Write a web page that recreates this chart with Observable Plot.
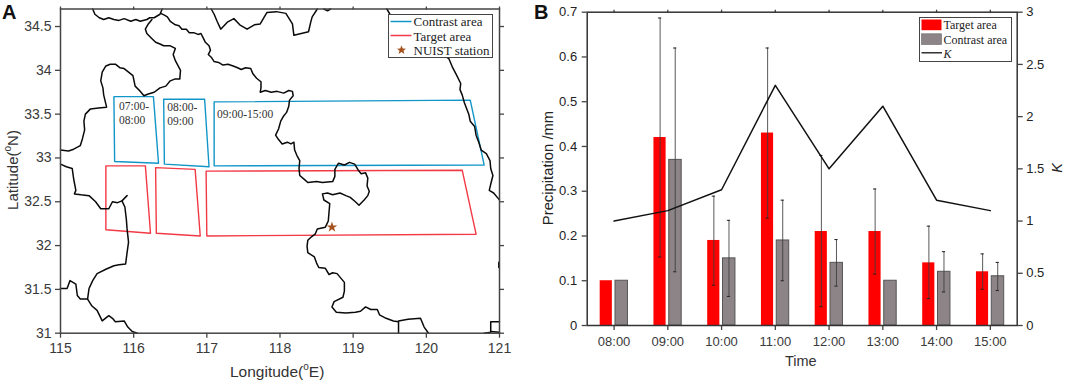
<!DOCTYPE html>
<html><head><meta charset="utf-8">
<script src="https://cdn.jsdelivr.net/npm/d3@7"></script>
<script src="https://cdn.jsdelivr.net/npm/@observablehq/plot@0.6"></script>
<style>
html,body{margin:0;padding:0;background:#fff}
#root{position:relative;width:1065px;height:385px;overflow:hidden;font-family:"Liberation Sans",Arial,sans-serif}
#root>div,#root>svg{position:absolute}
.lab{white-space:nowrap;line-height:1;color:#333;font-size:15.5px}
.lab sup{font-size:10px;line-height:0;position:relative;top:-1px;vertical-align:super}
.rot{transform:translate(-50%,-50%) rotate(-90deg);transform-origin:center}
.panel{font-weight:bold;font-size:20px;color:#111;line-height:1}
.legend{background:#fff;border:1.5px solid #444;box-sizing:border-box;font-family:"Liberation Serif","Times New Roman",serif;color:#222}
.legend>*{position:absolute}
</style></head><body><div id="root"></div>
<script>
// ---- Panel A data (longitude, latitude) ----
const lonTicks=[115,116,117,118,119,120,121];
const latTicks=[31,31.5,32,32.5,33,33.5,34,34.5];
const rimNorth=[[115.44,34.7],[115.47,34.64],[115.53,34.60],[115.59,34.58],[115.66,34.60],[115.73,34.58],[115.80,34.57],[115.87,34.59],[115.96,34.56],[116.03,34.58],[116.09,34.56],[116.18,34.58],[116.22,34.60],[116.28,34.60],[116.36,34.64],[116.39,34.7]];
const riverCentral=[[116.37,34.65],[116.42,34.63],[116.46,34.61],[116.50,34.56],[116.57,34.52],[116.62,34.51],[116.66,34.47],[116.72,34.47],[116.76,34.43],[116.82,34.43],[116.88,34.41],[116.92,34.42],[116.95,34.37],[116.98,34.32],[117.03,34.28],[117.05,34.23],[117.02,34.18],[117.06,34.15],[117.10,34.10],[117.16,34.09],[117.22,34.06],[117.29,34.07],[117.36,34.05],[117.42,34.03],[117.47,34.01],[117.53,34.03],[117.60,34.02],[117.63,33.96],[117.68,33.91],[117.74,33.87],[117.74,33.80],[117.73,33.75],[117.80,33.77],[117.88,33.75],[117.96,33.76],[118.05,33.74],[118.12,33.77],[118.17,33.76],[118.18,33.71],[118.13,33.66],[118.12,33.59],[118.09,33.52],[118.05,33.48],[118.01,33.42],[117.98,33.33],[117.94,33.26],[117.98,33.21],[118.03,33.16],[118.10,33.18],[118.15,33.16],[118.19,33.18],[118.20,33.09],[118.23,33.03],[118.27,32.97],[118.26,32.88],[118.27,32.80],[118.34,32.75],[118.38,32.72],[118.50,32.73],[118.58,32.72],[118.72,32.73],[118.75,32.79],[118.75,32.87],[118.80,32.94],[118.88,32.92],[118.95,32.95],[119.02,32.93],[119.07,32.86],[119.11,32.82],[119.17,32.83],[119.20,32.77],[119.19,32.68],[119.22,32.62],[119.20,32.57],[119.15,32.52],[119.08,32.46],[119.03,32.50],[118.96,32.55],[118.90,32.57],[118.82,32.60],[118.72,32.58],[118.65,32.60],[118.58,32.59],[118.60,32.52],[118.68,32.48],[118.67,32.38],[118.66,32.28],[118.62,32.21],[118.51,32.19],[118.48,32.13],[118.43,32.10],[118.38,32.06],[118.37,31.99],[118.38,31.92],[118.47,31.87],[118.50,31.80],[118.53,31.75],[118.62,31.74],[118.67,31.67],[118.72,31.69],[118.78,31.68],[118.84,31.62],[118.88,31.58],[118.88,31.48],[118.86,31.41],[118.74,31.36],[118.71,31.30],[118.77,31.24],[118.90,31.23],[119.03,31.24],[119.10,31.25],[119.17,31.30],[119.24,31.27],[119.33,31.27],[119.36,31.21],[119.45,31.17],[119.55,31.14],[119.62,31.13],[119.62,31]];
const riverSouthEnd=[[119.62,31.14],[119.75,31.16],[119.92,31.17],[119.97,31.07],[120.03,31]];
const loopWest=[[116.25,34.58],[116.20,34.53],[116.16,34.47],[116.18,34.42],[116.24,34.37],[116.30,34.32],[116.36,34.30],[116.41,34.28],[116.50,34.28],[116.57,34.25],[116.54,34.18],[116.57,34.11],[116.64,34.00],[116.63,33.90],[116.56,33.90],[116.50,33.88],[116.44,33.82],[116.36,33.80],[116.28,33.75],[116.20,33.73],[116.14,33.71],[116.08,33.77],[116.02,33.82],[115.99,33.94],[115.93,33.98],[115.87,34.02],[115.81,34.03],[115.75,34.07],[115.68,34.07],[115.62,34.05],[115.57,33.98],[115.55,33.88],[115.58,33.80],[115.59,33.72],[115.63,33.58],[115.52,33.57],[115.41,33.56],[115.34,33.50],[115.32,33.42],[115.33,33.32],[115.30,33.22],[115.27,33.14],[115.18,33.10],[115.11,33.08],[115,33.09]];
const riverWest=[[115,32.93],[115.08,32.90],[115.16,32.88],[115.18,32.76],[115.21,32.63],[115.19,32.59],[115.28,32.58],[115.39,32.57],[115.48,32.50],[115.55,32.42],[115.66,32.42],[115.71,32.50],[115.78,32.49],[115.84,32.51],[115.91,32.57]];
const riverWestSouth=[[115.84,32.51],[115.88,32.44],[115.90,32.30],[115.91,32.19],[115.93,32.04],[115.91,31.92],[115.89,31.79],[115.80,31.78],[115.73,31.77],[115.62,31.73],[115.50,31.68],[115.44,31.60],[115.39,31.51],[115.37,31.39],[115.43,31.31],[115.50,31.26],[115.57,31.14],[115.66,31.20],[115.71,31.17],[115.75,31.13],[115.87,31.14],[115.92,31.07],[115.98,31.02],[116.05,31]];
const branchSouthWest=[[115,31.51],[115.09,31.51],[115.13,31.60],[115.21,31.56],[115.23,31.43],[115.27,31.39],[115.37,31.39]];
const rimNorthEast=[[117.06,34.7],[117.10,34.64],[117.14,34.56],[117.19,34.47],[117.28,34.55],[117.37,34.59],[117.45,34.52],[117.55,34.47],[117.65,34.52],[117.73,34.53],[117.82,34.66],[117.95,34.67],[118.08,34.65],[118.17,34.53],[118.19,34.40],[118.29,34.42],[118.39,34.44],[118.42,34.55],[118.44,34.61],[118.51,34.7]];
const rimTopDash=[[118.60,34.7],[118.65,34.68],[118.69,34.7]];
const coast=[[119.46,34.7],[119.51,34.63],[120.31,34.13],[120.36,34.03],[120.41,33.95],[120.47,33.85],[120.46,33.78],[120.49,33.72],[120.52,33.63],[120.58,33.50],[120.60,33.42],[120.66,33.36],[120.68,33.26],[120.72,33.17],[120.75,33.09],[120.82,33.05],[120.87,32.97],[120.88,32.88],[120.91,32.80],[120.88,32.70],[120.86,32.63],[120.92,32.60],[120.99,32.53],[121,32.52]];
const coastDash=[[120.99,31.81],[120.99,31.75]];
const cornerA=[[120.79,31],[120.88,31.01],[120.88,31.13],[121,31.13]];
const cornerB=[[120.88,31.02],[121,31.01]];
const contrastBoxes=[
 [[115.73,33.70],[116.27,33.70],[116.34,32.94],[115.74,32.96],[115.73,33.70]],
 [[116.41,33.67],[116.97,33.67],[117.03,32.90],[116.42,32.93],[116.41,33.67]],
 [[117.10,33.64],[120.60,33.66],[120.79,32.92],[117.10,32.91],[117.10,33.64]]];
const targetBoxes=[
 [[115.62,32.91],[116.16,32.91],[116.23,32.14],[115.62,32.18],[115.62,32.91]],
 [[116.30,32.89],[116.84,32.87],[116.91,32.11],[116.31,32.14],[116.30,32.89]],
 [[116.99,32.85],[120.49,32.86],[120.68,32.13],[117.00,32.11],[116.99,32.85]]];
const station=[[118.71,32.21]];
const boxLabels=[{lon:115.80,lat:33.515,t:"07:00-\n08:00"},{lon:116.46,lat:33.505,t:"08:00-\n09:00"},{lon:117.14,lat:33.51,t:"09:00-15:00"}];
const boundaries=[rimNorth,riverCentral,riverSouthEnd,loopWest,riverWest,riverWestSouth,branchSouthWest,rimNorthEast,rimTopDash,coast,coastDash,cornerA,cornerB];

// ---- Panel B data ----
const times=["08:00","09:00","10:00","11:00","12:00","13:00","14:00","15:00"];
const targetRain=[0.10,0.42,0.19,0.43,0.21,0.21,0.14,0.12];
const targetHigh=[null,0.687,0.289,0.62,0.38,0.305,0.222,0.16];
const targetLow=[null,0.153,0.09,0.24,0.042,0.115,0.06,0.081];
const contrastRain=[0.10,0.37,0.15,0.19,0.14,0.10,0.12,0.11];
const contrastHigh=[null,0.62,0.235,0.28,0.192,null,0.165,0.141];
const contrastLow=[null,0.12,0.065,0.10,0.088,null,0.075,0.078];
const kValues=[1.0,1.1,1.3,2.3,1.5,2.1,1.2,1.1];
const rainTicks=[0,0.1,0.2,0.3,0.4,0.5,0.6,0.7];
const kTicks=[0,0.5,1,1.5,2,2.5,3];

const BLUE="#1296c8",RED="#f23a46",AX="#444",TXT="#3a3a3a";
const SERIF='"Liberation Serif","Times New Roman",serif';
const root=document.getElementById("root");
const ax=(o)=>({label:null,color:AX,strokeWidth:1.3,strokeOpacity:1,...o});
const blank=()=>"";
const fmt=d=>String(d);

const mapPlot=Plot.plot({
 width:520,height:385,marginLeft:60,marginRight:21,marginTop:8.5,marginBottom:52.3,
 style:{background:"transparent",fontFamily:'"Liberation Sans",Arial,sans-serif',overflow:"visible"},
 x:{domain:[115,121]},y:{domain:[31,34.7]},
 marks:[
  ...contrastBoxes.map(b=>Plot.line(b,{stroke:BLUE,strokeWidth:1.4})),
  ...targetBoxes.map(b=>Plot.line(b,{stroke:RED,strokeWidth:1.4})),
  ...boundaries.map(b=>Plot.line(b,{stroke:"#0a0a0a",strokeWidth:1.5})),
  Plot.text(boxLabels,{x:"lon",y:"lat",text:"t",textAnchor:"start",fontFamily:SERIF,fontSize:11.5,lineHeight:1.15,fill:"#333"}),
  Plot.dot(station,{symbol:"star",r:3.4,fill:"#a5521f",stroke:"none"}),
  Plot.axisX({...ax({anchor:"bottom",ticks:lonTicks,tickSize:5,tickPadding:5,tickFormat:fmt,fontSize:14}),color:TXT,stroke:AX}),
  Plot.axisX(ax({anchor:"top",ticks:lonTicks,tickSize:3,tickFormat:blank})),
  Plot.axisY({...ax({anchor:"left",ticks:latTicks,tickSize:5,tickPadding:4,tickFormat:fmt,fontSize:14}),color:TXT,stroke:AX}),
  Plot.axisY(ax({anchor:"right",ticks:latTicks,tickSize:4,tickFormat:blank})),
  Plot.frame({stroke:AX,strokeWidth:1.5})
 ]
});
mapPlot.style.left="0";mapPlot.style.top="0";mapPlot.style.position="absolute";
root.appendChild(mapPlot);

const rows=times.map((t,i)=>({t,target:targetRain[i],tHi:targetHigh[i],tLo:targetLow[i],contrast:contrastRain[i],cHi:contrastHigh[i],cLo:contrastLow[i],k:kValues[i]}));
const kToRain=0.7/3;
const errMarks=(hi,lo,dx)=>{
 const d=rows.filter(r=>r[hi]!=null);
 const half=53.75/2, capL=half+dx-1.6, capR=half-dx-1.6;
 return [
  Plot.ruleX(d,{x:"t",y1:lo,y2:hi,dx,stroke:"#3c3c3c",strokeWidth:1,strokeOpacity:.85}),
  Plot.tickY(d,{x:"t",y:hi,insetLeft:capL,insetRight:capR,stroke:"#222",strokeWidth:1}),
  Plot.tickY(d,{x:"t",y:lo,insetLeft:capL,insetRight:capR,stroke:"#222",strokeWidth:1})
 ];
};
const rainPlot=Plot.plot({
 width:535,height:385,marginLeft:56.7,marginRight:48.3,marginTop:11.7,marginBottom:60,
 style:{background:"transparent",fontFamily:'"Liberation Sans",Arial,sans-serif',overflow:"visible"},
 x:{type:"band",domain:times,padding:0,round:false},y:{domain:[0,0.7]},
 marks:[
  Plot.barY(rows,{x:"t",y:"target",fill:"#ff0000",insetLeft:13,insetRight:28.6}),
  Plot.barY(rows,{x:"t",y:"contrast",fill:"#8c8486",stroke:"#555",strokeWidth:1,insetLeft:28.3,insetRight:13}),
  ...errMarks("tHi","tLo",-7.7),
  ...errMarks("cHi","cLo",7.4),
  Plot.lineY(rows,{x:"t",y:d=>d.k*kToRain,stroke:"#111",strokeWidth:1.5}),
  Plot.axisX({...ax({anchor:"bottom",tickSize:5,tickPadding:6,fontSize:13}),color:TXT,stroke:AX}),
  Plot.axisX(ax({anchor:"top",tickSize:3,tickFormat:blank})),
  Plot.axisY({...ax({anchor:"left",ticks:rainTicks,tickSize:5,tickPadding:5,tickFormat:fmt,fontSize:13}),color:"#222",stroke:AX}),
  Plot.axisY({...ax({anchor:"right",ticks:kTicks.map(k=>k*kToRain),tickSize:5,tickPadding:4,tickFormat:v=>String(+(v/kToRain).toFixed(1)),fontSize:13}),color:"#222",stroke:AX}),
  Plot.frame({stroke:"#333",strokeWidth:1.5})
 ]
});
rainPlot.style.left="530px";rainPlot.style.top="0";rainPlot.style.position="absolute";
root.appendChild(rainPlot);

function add(html,css,cls){const e=document.createElement("div");e.className=cls||"";e.innerHTML=html;Object.assign(e.style,css);root.appendChild(e);return e;}
add("A",{left:"2px",top:"2px"},"panel");
add("B",{left:"534px",top:"2px"},"panel");
add("Longitude(<sup>o</sup>E)",{left:"230px",top:"364px"},"lab");
add("Latitude(<sup>o</sup>N)",{left:"12px",top:"170px",fontSize:"15px"},"lab rot");
add("Precipitation /mm",{left:"548px",top:"168px",color:"#222",fontSize:"14.8px"},"lab rot");
add("Time",{left:"785px",top:"354px",fontSize:"14.5px"},"lab");
add("<i>K</i>",{left:"1057px",top:"168px",color:"#222",fontSize:"14.5px"},"lab rot");

// Legends
const lgA=add("",{left:"388px",top:"14px",width:"105px",height:"44px",fontSize:"13px"},"legend");
lgA.innerHTML=`<svg width="102" height="41" style="left:0;top:0"><line x1="1.5" x2="22.5" y1="6.5" y2="6.5" stroke="${BLUE}" stroke-width="1.5"/><line x1="1.5" x2="22.5" y1="20.5" y2="20.5" stroke="${RED}" stroke-width="1.5"/><path d="M12.5 30.5l1.3 3 3.2.2-2.5 2 .9 3.2-2.9-1.8-2.9 1.8.9-3.2-2.5-2 3.2-.2z" fill="#a5521f"/></svg><span style="left:24.5px;top:-1px">Contrast area</span><span style="left:24.5px;top:13.5px">Target area</span><span style="left:24.5px;top:27.5px">NUIST station</span>`;
const lgB=add("",{left:"919px",top:"17px",width:"93px",height:"45px",fontSize:"12px"},"legend");
lgB.innerHTML=`<svg width="90" height="42" style="left:0;top:0"><rect x="1.5" y="1.5" width="20" height="10.7" fill="#ff0000"/><rect x="1.5" y="15.8" width="20" height="10.7" fill="#8c8486" stroke="#666" stroke-width=".6"/><line x1="1.5" x2="22" y1="34.8" y2="34.8" stroke="#111" stroke-width="1.3"/></svg><span style="left:23.5px;top:0px">Target area</span><span style="left:23.5px;top:14.5px">Contrast area</span><span style="left:23.5px;top:28.5px;font-style:italic">K</span>`;
</script></body></html>
